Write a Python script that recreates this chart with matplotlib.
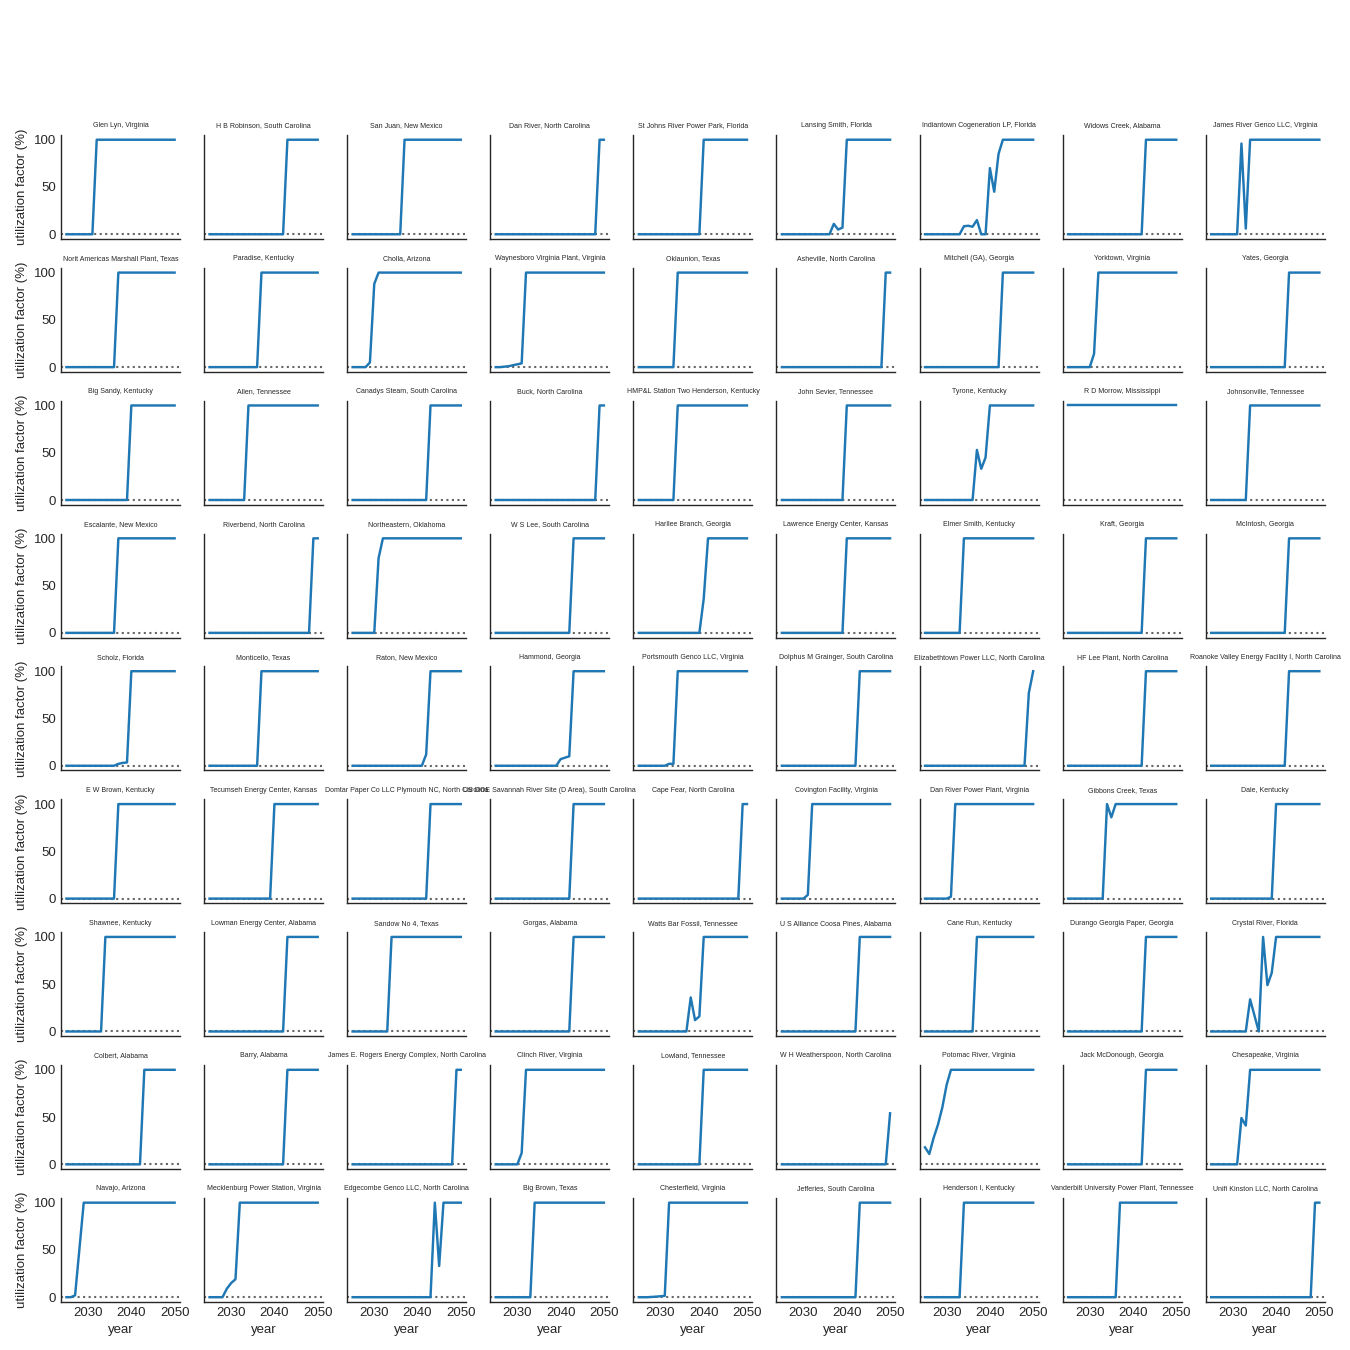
import matplotlib
matplotlib.use("Agg")
import matplotlib.pyplot as plt

plt.rcParams['font.family'] = ['Liberation Sans', 'DejaVu Sans']

years = list(range(2025, 2051))

plants = [
    "Glen Lyn, Virginia", "H B Robinson, South Carolina", "San Juan, New Mexico",
    "Dan River, North Carolina", "St Johns River Power Park, Florida", "Lansing Smith, Florida",
    "Indiantown Cogeneration LP, Florida", "Widows Creek, Alabama", "James River Genco LLC, Virginia",
    "Norit Americas Marshall Plant, Texas", "Paradise, Kentucky", "Cholla, Arizona",
    "Waynesboro Virginia Plant, Virginia", "Oklaunion, Texas", "Asheville, North Carolina",
    "Mitchell (GA), Georgia", "Yorktown, Virginia", "Yates, Georgia",
    "Big Sandy, Kentucky", "Allen, Tennessee", "Canadys Steam, South Carolina",
    "Buck, North Carolina", "HMP&L Station Two Henderson, Kentucky", "John Sevier, Tennessee",
    "Tyrone, Kentucky", "R D Morrow, Mississippi", "Johnsonville, Tennessee",
    "Escalante, New Mexico", "Riverbend, North Carolina", "Northeastern, Oklahoma",
    "W S Lee, South Carolina", "Harllee Branch, Georgia", "Lawrence Energy Center, Kansas",
    "Elmer Smith, Kentucky", "Kraft, Georgia", "McIntosh, Georgia",
    "Scholz, Florida", "Monticello, Texas", "Raton, New Mexico",
    "Hammond, Georgia", "Portsmouth Genco LLC, Virginia", "Dolphus M Grainger, South Carolina",
    "Elizabethtown Power LLC, North Carolina", "HF Lee Plant, North Carolina", "Roanoke Valley Energy Facility I, North Carolina",
    "E W Brown, Kentucky", "Tecumseh Energy Center, Kansas", "Domtar Paper Co LLC Plymouth NC, North Carolina",
    "US DOE Savannah River Site (D Area), South Carolina", "Cape Fear, North Carolina", "Covington Facility, Virginia",
    "Dan River Power Plant, Virginia", "Gibbons Creek, Texas", "Dale, Kentucky",
    "Shawnee, Kentucky", "Lowman Energy Center, Alabama", "Sandow No 4, Texas",
    "Gorgas, Alabama", "Watts Bar Fossil, Tennessee", "U S Alliance Coosa Pines, Alabama",
    "Cane Run, Kentucky", "Durango Georgia Paper, Georgia", "Crystal River, Florida",
    "Colbert, Alabama", "Barry, Alabama", "James E. Rogers Energy Complex, North Carolina",
    "Clinch River, Virginia", "Lowland, Tennessee", "W H Weatherspoon, North Carolina",
    "Potomac River, Virginia", "Jack McDonough, Georgia", "Chesapeake, Virginia",
    "Navajo, Arizona", "Mecklenburg Power Station, Virginia", "Edgecombe Genco LLC, North Carolina",
    "Big Brown, Texas", "Chesterfield, Virginia", "Jefferies, South Carolina",
    "Henderson I, Kentucky", "Vanderbilt University Power Plant, Tennessee", "Unifi Kinston LLC, North Carolina",
]

# utilization factor (%) per plant, one value per year 2025..2050
glen_lyn       = [0,0,0,0,0, 0,0,100,100,100, 100,100,100,100,100, 100,100,100,100,100, 100,100,100,100,100, 100]
hb_robinson    = [0,0,0,0,0, 0,0,0,0,0, 0,0,0,0,0, 0,0,0,100,100, 100,100,100,100,100, 100]
san_juan       = [0,0,0,0,0, 0,0,0,0,0, 0,0,100,100,100, 100,100,100,100,100, 100,100,100,100,100, 100]
dan_river      = [0,0,0,0,0, 0,0,0,0,0, 0,0,0,0,0, 0,0,0,0,0, 0,0,0,0,100, 100]
st_johns       = [0,0,0,0,0, 0,0,0,0,0, 0,0,0,0,0, 100,100,100,100,100, 100,100,100,100,100, 100]
lansing_smith  = [0,0,0,0,0, 0,0,0,0,0, 0,0,11,5,7, 100,100,100,100,100, 100,100,100,100,100, 100]
indiantown     = [0,0,0,0,0, 0,0,0,0,8.5, 9,8,15,0,0, 70,45,85,100,100, 100,100,100,100,100, 100]
widows_creek   = [0,0,0,0,0, 0,0,0,0,0, 0,0,0,0,0, 0,0,0,100,100, 100,100,100,100,100, 100]
james_river    = [0,0,0,0,0, 0,0,96,6,100, 100,100,100,100,100, 100,100,100,100,100, 100,100,100,100,100, 100]

norit          = [0,0,0,0,0, 0,0,0,0,0, 0,0,100,100,100, 100,100,100,100,100, 100,100,100,100,100, 100]
paradise       = [0,0,0,0,0, 0,0,0,0,0, 0,0,100,100,100, 100,100,100,100,100, 100,100,100,100,100, 100]
cholla         = [0,0,0,0,5, 88,100,100,100,100, 100,100,100,100,100, 100,100,100,100,100, 100,100,100,100,100, 100]
waynesboro     = [0,0,0.5,1,2, 3,4,100,100,100, 100,100,100,100,100, 100,100,100,100,100, 100,100,100,100,100, 100]
oklaunion      = [0,0,0,0,0, 0,0,0,0,100, 100,100,100,100,100, 100,100,100,100,100, 100,100,100,100,100, 100]
asheville      = [0,0,0,0,0, 0,0,0,0,0, 0,0,0,0,0, 0,0,0,0,0, 0,0,0,0,100, 100]
mitchell       = [0,0,0,0,0, 0,0,0,0,0, 0,0,0,0,0, 0,0,0,100,100, 100,100,100,100,100, 100]
yorktown       = [0,0,0,0,0, 0,14,100,100,100, 100,100,100,100,100, 100,100,100,100,100, 100,100,100,100,100, 100]
yates          = [0,0,0,0,0, 0,0,0,0,0, 0,0,0,0,0, 0,0,0,100,100, 100,100,100,100,100, 100]

big_sandy      = [0,0,0,0,0, 0,0,0,0,0, 0,0,0,0,0, 100,100,100,100,100, 100,100,100,100,100, 100]
allen          = [0,0,0,0,0, 0,0,0,0,100, 100,100,100,100,100, 100,100,100,100,100, 100,100,100,100,100, 100]
canadys        = [0,0,0,0,0, 0,0,0,0,0, 0,0,0,0,0, 0,0,0,100,100, 100,100,100,100,100, 100]
buck           = [0,0,0,0,0, 0,0,0,0,0, 0,0,0,0,0, 0,0,0,0,0, 0,0,0,0,100, 100]
hmpl           = [0,0,0,0,0, 0,0,0,0,100, 100,100,100,100,100, 100,100,100,100,100, 100,100,100,100,100, 100]
john_sevier    = [0,0,0,0,0, 0,0,0,0,0, 0,0,0,0,0, 100,100,100,100,100, 100,100,100,100,100, 100]
tyrone         = [0,0,0,0,0, 0,0,0,0,0, 0,0,53,33,45, 100,100,100,100,100, 100,100,100,100,100, 100]
rd_morrow      = [100,100,100,100,100, 100,100,100,100,100, 100,100,100,100,100, 100,100,100,100,100, 100,100,100,100,100, 100]
johnsonville   = [0,0,0,0,0, 0,0,0,0,100, 100,100,100,100,100, 100,100,100,100,100, 100,100,100,100,100, 100]

escalante      = [0,0,0,0,0, 0,0,0,0,0, 0,0,100,100,100, 100,100,100,100,100, 100,100,100,100,100, 100]
riverbend      = [0,0,0,0,0, 0,0,0,0,0, 0,0,0,0,0, 0,0,0,0,0, 0,0,0,0,100, 100]
northeastern   = [0,0,0,0,0, 0,79,100,100,100, 100,100,100,100,100, 100,100,100,100,100, 100,100,100,100,100, 100]
ws_lee         = [0,0,0,0,0, 0,0,0,0,0, 0,0,0,0,0, 0,0,0,100,100, 100,100,100,100,100, 100]
harllee        = [0,0,0,0,0, 0,0,0,0,0, 0,0,0,0,0, 36,100,100,100,100, 100,100,100,100,100, 100]
lawrence       = [0,0,0,0,0, 0,0,0,0,0, 0,0,0,0,0, 100,100,100,100,100, 100,100,100,100,100, 100]
elmer_smith    = [0,0,0,0,0, 0,0,0,0,100, 100,100,100,100,100, 100,100,100,100,100, 100,100,100,100,100, 100]
kraft          = [0,0,0,0,0, 0,0,0,0,0, 0,0,0,0,0, 0,0,0,100,100, 100,100,100,100,100, 100]
mcintosh       = [0,0,0,0,0, 0,0,0,0,0, 0,0,0,0,0, 0,0,0,100,100, 100,100,100,100,100, 100]

scholz         = [0,0,0,0,0, 0,0,0,0,0, 0,0,2,3,3.5, 100,100,100,100,100, 100,100,100,100,100, 100]
monticello     = [0,0,0,0,0, 0,0,0,0,0, 0,0,100,100,100, 100,100,100,100,100, 100,100,100,100,100, 100]
raton          = [0,0,0,0,0, 0,0,0,0,0, 0,0,0,0,0, 0,0,12,100,100, 100,100,100,100,100, 100]
hammond        = [0,0,0,0,0, 0,0,0,0,0, 0,0,0,0,0, 7,8.5,10,100,100, 100,100,100,100,100, 100]
portsmouth     = [0,0,0,0,0, 0,0,2,2,100, 100,100,100,100,100, 100,100,100,100,100, 100,100,100,100,100, 100]
dolphus        = [0,0,0,0,0, 0,0,0,0,0, 0,0,0,0,0, 0,0,0,100,100, 100,100,100,100,100, 100]
elizabethtown  = [0,0,0,0,0, 0,0,0,0,0, 0,0,0,0,0, 0,0,0,0,0, 0,0,0,0,77, 100]
hf_lee         = [0,0,0,0,0, 0,0,0,0,0, 0,0,0,0,0, 0,0,0,100,100, 100,100,100,100,100, 100]
roanoke        = [0,0,0,0,0, 0,0,0,0,0, 0,0,0,0,0, 0,0,0,100,100, 100,100,100,100,100, 100]

ew_brown       = [0,0,0,0,0, 0,0,0,0,0, 0,0,100,100,100, 100,100,100,100,100, 100,100,100,100,100, 100]
tecumseh       = [0,0,0,0,0, 0,0,0,0,0, 0,0,0,0,0, 100,100,100,100,100, 100,100,100,100,100, 100]
domtar         = [0,0,0,0,0, 0,0,0,0,0, 0,0,0,0,0, 0,0,0,100,100, 100,100,100,100,100, 100]
savannah       = [0,0,0,0,0, 0,0,0,0,0, 0,0,0,0,0, 0,0,0,100,100, 100,100,100,100,100, 100]
cape_fear      = [0,0,0,0,0, 0,0,0,0,0, 0,0,0,0,0, 0,0,0,0,0, 0,0,0,0,100, 100]
covington      = [0,0,0,0,0, 0,4,100,100,100, 100,100,100,100,100, 100,100,100,100,100, 100,100,100,100,100, 100]
dan_river_pp   = [0,0,0,0,0, 0,2,100,100,100, 100,100,100,100,100, 100,100,100,100,100, 100,100,100,100,100, 100]
gibbons_creek  = [0,0,0,0,0, 0,0,0,0,100, 86,100,100,100,100, 100,100,100,100,100, 100,100,100,100,100, 100]
dale           = [0,0,0,0,0, 0,0,0,0,0, 0,0,0,0,0, 100,100,100,100,100, 100,100,100,100,100, 100]

shawnee        = [0,0,0,0,0, 0,0,0,0,100, 100,100,100,100,100, 100,100,100,100,100, 100,100,100,100,100, 100]
lowman         = [0,0,0,0,0, 0,0,0,0,0, 0,0,0,0,0, 0,0,0,100,100, 100,100,100,100,100, 100]
sandow         = [0,0,0,0,0, 0,0,0,0,100, 100,100,100,100,100, 100,100,100,100,100, 100,100,100,100,100, 100]
gorgas         = [0,0,0,0,0, 0,0,0,0,0, 0,0,0,0,0, 0,0,0,100,100, 100,100,100,100,100, 100]
watts_bar      = [0,0,0,0,0, 0,0,0,0,0, 0,0,36,12,16, 100,100,100,100,100, 100,100,100,100,100, 100]
coosa_pines    = [0,0,0,0,0, 0,0,0,0,0, 0,0,0,0,0, 0,0,0,100,100, 100,100,100,100,100, 100]
cane_run       = [0,0,0,0,0, 0,0,0,0,0, 0,0,100,100,100, 100,100,100,100,100, 100,100,100,100,100, 100]
durango        = [0,0,0,0,0, 0,0,0,0,0, 0,0,0,0,0, 0,0,0,100,100, 100,100,100,100,100, 100]
crystal_river  = [0,0,0,0,0, 0,0,0,0,34, 17,0,100,49,62, 100,100,100,100,100, 100,100,100,100,100, 100]

colbert        = [0,0,0,0,0, 0,0,0,0,0, 0,0,0,0,0, 0,0,0,100,100, 100,100,100,100,100, 100]
barry          = [0,0,0,0,0, 0,0,0,0,0, 0,0,0,0,0, 0,0,0,100,100, 100,100,100,100,100, 100]
james_rogers   = [0,0,0,0,0, 0,0,0,0,0, 0,0,0,0,0, 0,0,0,0,0, 0,0,0,0,100, 100]
clinch_river   = [0,0,0,0,0, 0,12,100,100,100, 100,100,100,100,100, 100,100,100,100,100, 100,100,100,100,100, 100]
lowland        = [0,0,0,0,0, 0,0,0,0,0, 0,0,0,0,0, 100,100,100,100,100, 100,100,100,100,100, 100]
weatherspoon   = [0,0,0,0,0, 0,0,0,0,0, 0,0,0,0,0, 0,0,0,0,0, 0,0,0,0,0, 54]
potomac        = [18,11,28,42,60, 84,100,100,100,100, 100,100,100,100,100, 100,100,100,100,100, 100,100,100,100,100, 100]
mcdonough      = [0,0,0,0,0, 0,0,0,0,0, 0,0,0,0,0, 0,0,0,100,100, 100,100,100,100,100, 100]
chesapeake     = [0,0,0,0,0, 0,0,49,41,100, 100,100,100,100,100, 100,100,100,100,100, 100,100,100,100,100, 100]

navajo         = [0,0,2,51,100, 100,100,100,100,100, 100,100,100,100,100, 100,100,100,100,100, 100,100,100,100,100, 100]
mecklenburg    = [0,0,0,0,9, 15,19,100,100,100, 100,100,100,100,100, 100,100,100,100,100, 100,100,100,100,100, 100]
edgecombe      = [0,0,0,0,0, 0,0,0,0,0, 0,0,0,0,0, 0,0,0,0,100, 33,100,100,100,100, 100]
big_brown      = [0,0,0,0,0, 0,0,0,0,100, 100,100,100,100,100, 100,100,100,100,100, 100,100,100,100,100, 100]
chesterfield   = [0,0,0,0.3,0.6, 1,1.5,100,100,100, 100,100,100,100,100, 100,100,100,100,100, 100,100,100,100,100, 100]
jefferies      = [0,0,0,0,0, 0,0,0,0,0, 0,0,0,0,0, 0,0,0,100,100, 100,100,100,100,100, 100]
henderson_i    = [0,0,0,0,0, 0,0,0,0,100, 100,100,100,100,100, 100,100,100,100,100, 100,100,100,100,100, 100]
vanderbilt     = [0,0,0,0,0, 0,0,0,0,0, 0,0,100,100,100, 100,100,100,100,100, 100,100,100,100,100, 100]
unifi_kinston  = [0,0,0,0,0, 0,0,0,0,0, 0,0,0,0,0, 0,0,0,0,0, 0,0,0,0,100, 100]

series = [
    glen_lyn, hb_robinson, san_juan, dan_river, st_johns, lansing_smith, indiantown, widows_creek, james_river,
    norit, paradise, cholla, waynesboro, oklaunion, asheville, mitchell, yorktown, yates,
    big_sandy, allen, canadys, buck, hmpl, john_sevier, tyrone, rd_morrow, johnsonville,
    escalante, riverbend, northeastern, ws_lee, harllee, lawrence, elmer_smith, kraft, mcintosh,
    scholz, monticello, raton, hammond, portsmouth, dolphus, elizabethtown, hf_lee, roanoke,
    ew_brown, tecumseh, domtar, savannah, cape_fear, covington, dan_river_pp, gibbons_creek, dale,
    shawnee, lowman, sandow, gorgas, watts_bar, coosa_pines, cane_run, durango, crystal_river,
    colbert, barry, james_rogers, clinch_river, lowland, weatherspoon, potomac, mcdonough, chesapeake,
    navajo, mecklenburg, edgecombe, big_brown, chesterfield, jefferies, henderson_i, vanderbilt, unifi_kinston,
]
for s in series:
    assert len(s) == len(years), len(s)

xticks = [2030, 2040, 2050]
yticks = [0, 50, 100]

fig = plt.figure(figsize=(13.5, 13.5), dpi=100)
axes = fig.subplots(9, 9, sharex=True, sharey=True)
fig.subplots_adjust(left=0.0452, right=0.9813, bottom=0.0356, top=0.9,
                    wspace=0.2025, hspace=0.2776)

dark = '0.15'
for idx, ax in enumerate(axes.flat):
    ax.axhline(0, color='0.4', ls=':', lw=1.5, zorder=1)
    ax.plot(years, series[idx], color='#1f77b4', lw=1.75, zorder=2)
    ax.set_title(plants[idx], fontsize=5, color=dark, pad=5.5)
    for side in ('top', 'right'):
        ax.spines[side].set_visible(False)
    for side in ('left', 'bottom'):
        ax.spines[side].set_color(dark)
        ax.spines[side].set_linewidth(1.0)
    ax.tick_params(length=0, labelsize=9.5, labelcolor=dark, pad=3.5)
    ax.set_xticks(xticks)
    ax.set_yticks(yticks)

for r in range(9):
    axes[r, 0].set_ylabel('utilization factor (%)', fontsize=9.5, color=dark)
for c in range(9):
    axes[8, c].set_xlabel('year', fontsize=9.5, color=dark)

fig.savefig('out.png', dpi=100, facecolor='white')
